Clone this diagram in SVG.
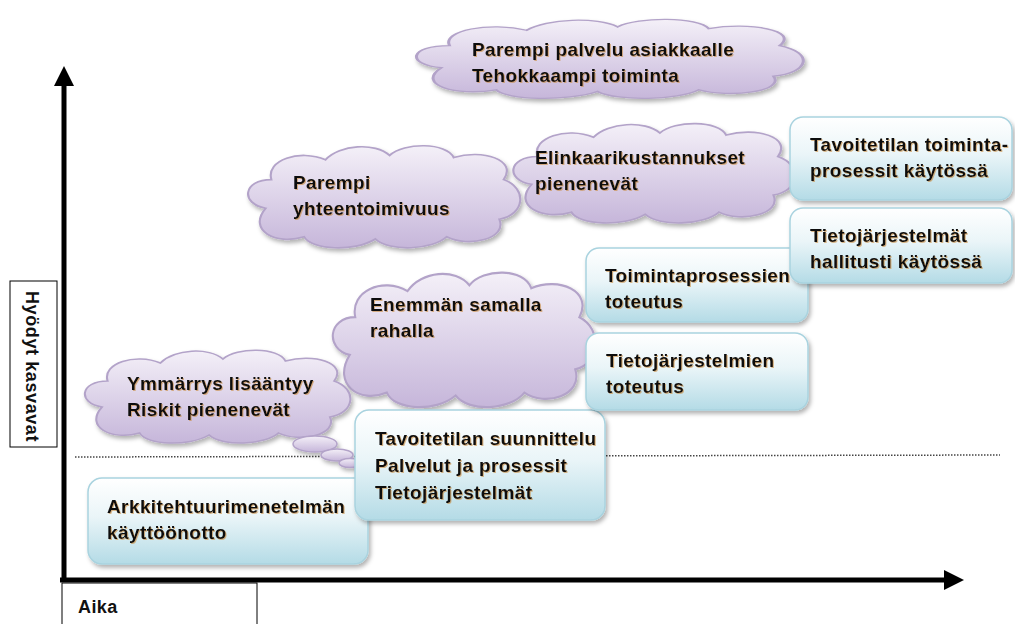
<svg xmlns="http://www.w3.org/2000/svg" width="1015" height="624" viewBox="0 0 1015 624">
<defs>
<linearGradient id="cg" x1="0" y1="0" x2="0" y2="1"><stop offset="0" stop-color="#f4f0f8"/><stop offset="1" stop-color="#c6b6da"/></linearGradient>
<linearGradient id="bg" x1="0" y1="0" x2="0" y2="1"><stop offset="0" stop-color="#ffffff"/><stop offset="0.45" stop-color="#eaf5f8"/><stop offset="1" stop-color="#b4dbe6"/></linearGradient>
<filter id="sh" x="-10%" y="-10%" width="125%" height="130%"><feDropShadow dx="2" dy="3" stdDeviation="2" flood-color="#000" flood-opacity="0.3"/></filter>
<filter id="ts" x="-5%" y="-20%" width="110%" height="140%"><feDropShadow dx="1" dy="1" stdDeviation="0.6" flood-color="#c98a3a" flood-opacity="0.6"/></filter>
<path id="cloud" d="M18,62 C0,58 2,36 22,36 C18,18 42,8 60,18 C70,4 95,2 105,14 C115,2 145,2 150,16 C170,8 195,18 185,36 C202,44 200,68 182,72 C188,90 160,98 145,88 C135,100 105,102 95,90 C80,102 50,100 45,88 C25,96 5,82 18,62 Z"/>
<marker id="ah" viewBox="0 0 10 10" refX="2" refY="5" markerWidth="4" markerHeight="4" orient="auto"><path d="M0,0 L10,5 L0,10 Z" fill="#000"/></marker>
</defs>
<style>
.cl{fill:url(#cg);stroke:#b3a3c9;stroke-width:1.5}
.bx{fill:url(#bg);stroke:#a9d3df;stroke-width:1.5}
.t{font-family:"Liberation Sans",Arial,sans-serif;font-weight:bold;font-size:19px;letter-spacing:0.4px;fill:#111}
.lb{fill:#fff;stroke:#000;stroke-width:1}
</style>
<rect width="1015" height="624" fill="#fff"/>
<g id="labels">
<rect class="lb" x="10" y="281" width="47" height="166"/>
<text class="t" transform="translate(26,291) rotate(90)" style="font-size:18px;letter-spacing:0.6px">Hyödyt kasvavat</text>
<rect class="lb" x="62" y="583" width="195" height="45"/>
<text class="t" x="78" y="613" style="font-size:18px">Aika</text>
</g>
<g id="connectors">
<line x1="64" y1="582" x2="64" y2="82" stroke="#000" stroke-width="5" marker-end="url(#ah)"/>
<line x1="60" y1="580" x2="948" y2="580" stroke="#000" stroke-width="5" marker-end="url(#ah)"/>
<line x1="75" y1="457" x2="1000" y2="455" stroke="#444" stroke-width="1.5" stroke-dasharray="1.5,1.5"/>
</g>
<g id="cloud1" filter="url(#sh)">
<use href="#cloud" class="cl" transform="translate(405,15) scale(2.025,0.85)"/>
<text class="t" filter="url(#ts)" x="472" y="56">Parempi palvelu asiakkaalle</text>
<text class="t" filter="url(#ts)" x="472" y="82">Tehokkaampi toiminta</text>
</g>
<g id="cloud3" filter="url(#sh)">
<use href="#cloud" class="cl" transform="translate(240,140) scale(1.425,1.1)"/>
<text class="t" filter="url(#ts)" x="293" y="189">Parempi</text>
<text class="t" filter="url(#ts)" x="293" y="215">yhteentoimivuus</text>
</g>
<g id="cloud2" filter="url(#sh)">
<use href="#cloud" class="cl" transform="translate(505,118) scale(1.475,1.07)"/>
<text class="t" filter="url(#ts)" x="535" y="164">Elinkaarikustannukset</text>
<text class="t" filter="url(#ts)" x="535" y="190">pienenevät</text>
</g>
<g id="cloud4" filter="url(#sh)">
<use href="#cloud" class="cl" transform="translate(325,265) scale(1.375,1.45)"/>
<text class="t" filter="url(#ts)" x="370" y="311">Enemmän samalla</text>
<text class="t" filter="url(#ts)" x="370" y="337">rahalla</text>
</g>
<g id="cloud5" filter="url(#sh)">
<use href="#cloud" class="cl" transform="translate(77,345) scale(1.39,1.0)"/>
<ellipse class="cl" cx="315" cy="444" rx="22" ry="8"/>
<ellipse class="cl" cx="337" cy="455" rx="16" ry="6"/>
<ellipse class="cl" cx="350" cy="463" rx="11" ry="4.5"/>
<text class="t" filter="url(#ts)" x="127" y="390">Ymmärrys lisääntyy</text>
<text class="t" filter="url(#ts)" x="127" y="416">Riskit pienenevät</text>
</g>
<g id="boxA" filter="url(#sh)">
<rect class="bx" x="88" y="478" width="280" height="86" rx="14"/>
<text class="t" filter="url(#ts)" x="107" y="513">Arkkitehtuurimenetelmän</text>
<text class="t" filter="url(#ts)" x="107" y="539">käyttöönotto</text>
</g>
<g id="boxB" filter="url(#sh)">
<rect class="bx" x="355" y="410" width="250" height="110" rx="14"/>
<text class="t" filter="url(#ts)" x="375" y="445">Tavoitetilan suunnittelu</text>
<text class="t" filter="url(#ts)" x="375" y="472">Palvelut ja prosessit</text>
<text class="t" filter="url(#ts)" x="375" y="499">Tietojärjestelmät</text>
</g>
<g id="boxC" filter="url(#sh)">
<rect class="bx" x="586" y="248" width="222" height="74" rx="13"/>
<text class="t" filter="url(#ts)" x="605" y="282">Toimintaprosessien</text>
<text class="t" filter="url(#ts)" x="605" y="308">toteutus</text>
</g>
<g id="boxD" filter="url(#sh)">
<rect class="bx" x="586" y="333" width="222" height="77" rx="13"/>
<text class="t" filter="url(#ts)" x="606" y="367">Tietojärjestelmien</text>
<text class="t" filter="url(#ts)" x="606" y="393">toteutus</text>
</g>
<g id="boxE" filter="url(#sh)">
<rect class="bx" x="790" y="117" width="222" height="83" rx="13"/>
<text class="t" filter="url(#ts)" x="810" y="151">Tavoitetilan toiminta-</text>
<text class="t" filter="url(#ts)" x="810" y="177">prosessit käytössä</text>
</g>
<g id="boxF" filter="url(#sh)">
<rect class="bx" x="790" y="208" width="222" height="75" rx="13"/>
<text class="t" filter="url(#ts)" x="810" y="242">Tietojärjestelmät</text>
<text class="t" filter="url(#ts)" x="810" y="268">hallitusti käytössä</text>
</g>
</svg>
